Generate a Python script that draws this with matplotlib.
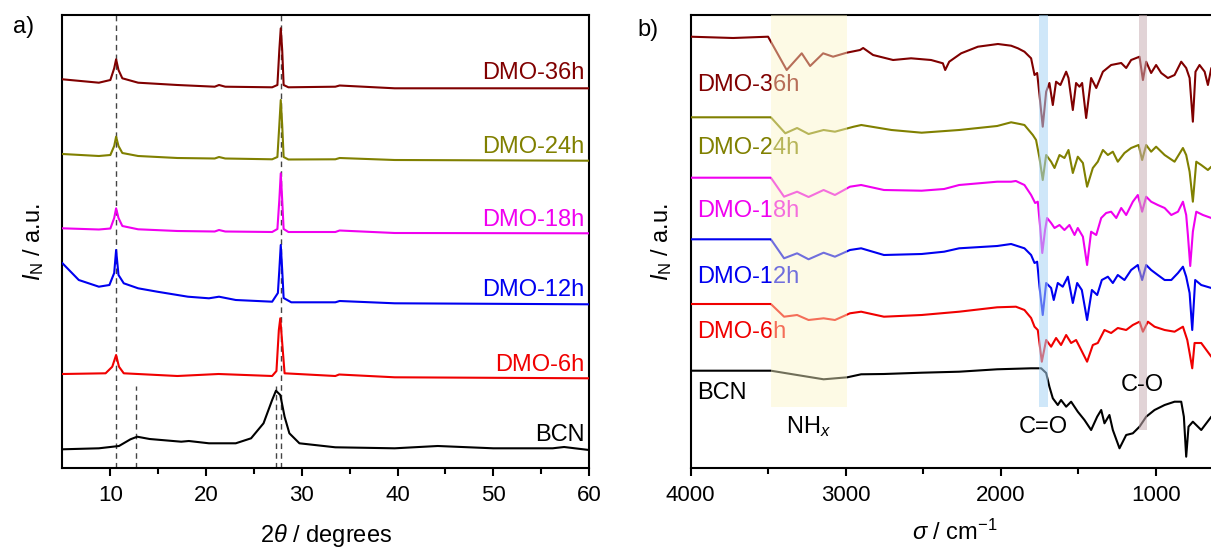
import numpy as np
import matplotlib
matplotlib.use("Agg")
import matplotlib.pyplot as plt

plt.rcParams['font.family'] = ['Liberation Sans', 'DejaVu Sans']
plt.rcParams['mathtext.fontset'] = 'custom'
plt.rcParams['mathtext.rm'] = 'Liberation Sans'
plt.rcParams['mathtext.it'] = 'Liberation Sans:italic'
plt.rcParams['mathtext.bf'] = 'Liberation Sans:bold'

# ------------------- data (stacked a.u.) -------------------
labels = ['BCN', 'DMO-6h', 'DMO-12h', 'DMO-18h', 'DMO-24h', 'DMO-36h']
colors = ['#000000', '#f00000', '#0000f0', '#f000f0', '#808000', '#800000']

# a) XRD, 2theta / degrees
xrd_x_dmo = [5.0, 8.8, 10.0, 10.4, 10.6, 10.85, 11.25, 12.9, 17.0, 20.9, 21.35, 22.0,
             26.9, 27.45, 27.65, 27.8, 27.95, 28.1, 28.6, 33.5, 33.95, 39.7, 60.0]
xrd_36h = [388.7, 385.3, 388, 399.7, 408.7, 398, 389.7, 385.3, 383, 381.3, 383, 381.3,
           380.7, 383, 418, 439.7, 418, 383, 380.7, 381.3, 382.5, 379.7, 379.7]
xrd_24h = [314, 312, 313, 322, 331.3, 322, 315, 312, 310, 309.5, 311, 309.5,
           308.7, 311, 343, 368, 343, 311, 308.5, 308.7, 310, 308, 307.3]
xrd_18h = [239.7, 238.5, 239.5, 250, 259.7, 250, 242, 238.7, 237, 236.5, 238, 236.5,
           236, 239, 268, 294.7, 268, 239, 236, 236, 237.5, 235, 234.7]
xrd_x_12h = [5.0, 6.7, 8.8, 9.9, 10.4, 10.6, 10.85, 11.4, 12.9, 14.9, 18.1, 20.3, 21.35,
             23.1, 26.9, 27.5, 27.65, 27.8, 27.95, 28.1, 28.9, 33.5, 33.95, 39.7, 60.0]
xrd_12h = [204.7, 188, 181.3, 183, 195, 218, 193, 184.7, 179.7, 176.3, 171.3, 169.7, 171.3,
           168, 166.3, 175, 198, 223, 198, 170, 165.7, 165.7, 167, 164.7, 163.7]
xrd_x_6h = [5.0, 9.5, 10.2, 10.6, 10.9, 11.4, 17.0, 21.3, 26.9, 27.35, 27.6, 27.75, 27.9,
            28.2, 33.5, 33.9, 39.7, 60.0]
xrd_6h = [94, 94.7, 101.3, 113, 101.3, 94.7, 92, 94, 92, 97, 138, 149.7, 131.3,
          94.7, 92, 93.5, 90.7, 89.7]
xrd_x_bcn = [5.0, 8.8, 10.9, 12.1, 12.8, 14.1, 17.4, 18.2, 20.3, 23.1, 24.7, 26.0, 26.9,
             27.3, 27.75, 28.2, 28.7, 29.75, 33.5, 39.7, 44.2, 50.0, 56.2, 57.4, 60.0]
xrd_bcn = [18.7, 19.7, 22, 28.7, 31.3, 29, 26.3, 27, 24.7, 24.7, 29.7, 44.7, 68,
           77.3, 73, 51.3, 34.7, 24.7, 20.7, 19.7, 22, 19.7, 19.7, 21, 18]
xrd_ref_full = [10.6, 27.8]      # dashed guides over the whole height
xrd_ref_bcn = [12.7, 27.35]      # short dashed guides for BCN
xrd_ref_bcn_top = 82

# b) FTIR, wavenumber / cm-1
ir_x_36h = [4000, 3727, 3501, 3381, 3284, 3230, 3146, 3082, 2994, 2908, 2888, 2824, 2695,
            2579, 2450, 2374, 2359, 2333, 2256, 2148, 2019, 1934, 1890, 1848, 1805, 1783,
            1766, 1751, 1730, 1708, 1687, 1665, 1644, 1616, 1579, 1564, 1536, 1515, 1493,
            1476, 1450, 1418, 1385, 1342, 1289, 1224, 1192, 1160, 1106, 1084, 1063, 1031,
            999, 966, 923, 880, 837, 805, 783, 762, 745, 719, 686, 665, 643, 600]
ir_36h = [431.3, 430, 431.3, 398, 414.7, 402, 414.7, 411.3, 415.3, 418, 420, 413, 408,
          409.7, 408, 404.7, 398, 406.3, 414.7, 421.3, 424, 422.3, 419.7, 416.3, 409.7, 393,
          395, 373, 341.3, 376.3, 385, 363, 386.3, 383, 396.3, 390, 358, 385, 381.3,
          385, 350, 390, 380, 396.3, 403, 405, 400, 408, 411.3, 388, 406.3, 395,
          403, 395, 390, 393, 406.3, 400, 390, 346.3, 396.3, 403, 396.3, 383, 400, 398]
ir_x_24h = [4000, 3483, 3390, 3314, 3240, 3143, 3070, 2949, 2900, 2705, 2511, 2269, 2024,
            1934, 1878, 1848, 1794, 1773, 1751, 1730, 1708, 1676, 1654, 1622, 1590, 1564,
            1536, 1504, 1471, 1444, 1407, 1375, 1342, 1310, 1278, 1246, 1203, 1160, 1112,
            1089, 1063, 1031, 999, 944, 880, 826, 805, 783, 762, 740, 708, 665, 643, 600]
ir_24h = [350.7, 350.7, 334.7, 340, 334, 338, 336.3, 341.3, 343, 338, 335.3, 338, 342,
          345.7, 344, 343, 333, 328, 310, 288, 313, 306.3, 300, 313, 310, 318,
          295, 311.3, 305, 281.3, 300, 306.3, 318, 313, 316.3, 306.3, 315, 320, 323,
          308, 323, 316.3, 321.3, 313, 306.3, 320, 313, 296.3, 266.3, 306.3, 303, 298, 301.3, 301]
ir_x_18h = [4000, 3483, 3398, 3314, 3240, 3143, 3070, 2973, 2901, 2754, 2511, 2366, 2269,
            2024, 1934, 1903, 1848, 1805, 1779, 1762, 1748, 1733, 1715, 1702, 1676, 1654,
            1622, 1590, 1558, 1525, 1504, 1471, 1444, 1418, 1385, 1353, 1321, 1289, 1256,
            1224, 1192, 1149, 1117, 1089, 1063, 1031, 988, 944, 901, 858, 826, 805, 794,
            779, 762, 740, 697, 643, 600]
ir_18h = [290.3, 290.3, 271.3, 276.3, 271, 278, 273, 281.3, 283, 278, 277.3, 279, 283,
          286.3, 286.3, 287, 283, 273, 265, 266.3, 243, 215, 238, 250, 245, 240,
          243, 238, 243, 233, 240, 231.3, 203, 236.3, 233, 250, 255, 256.3, 250,
          260, 253, 266.3, 273, 256.3, 271.3, 266.3, 263, 260, 253, 256.3, 266.3, 253, 233,
          202, 236.3, 256.3, 253, 250, 250]
ir_x_12h = [4000, 3483, 3398, 3314, 3240, 3143, 3070, 2973, 2901, 2754, 2511, 2366, 2269,
            2024, 1934, 1848, 1805, 1783, 1766, 1751, 1730, 1708, 1676, 1659, 1633, 1601,
            1568, 1536, 1508, 1478, 1444, 1413, 1379, 1349, 1310, 1278, 1246, 1203, 1160,
            1117, 1089, 1063, 1031, 988, 944, 901, 858, 826, 805, 783, 766, 747, 708, 643, 600]
ir_12h = [228.7, 228.7, 209.7, 214.7, 208.7, 215.3, 211.3, 218, 219.7, 213, 214, 216.3, 219.7,
          222, 224, 219.7, 213, 205, 206.3, 181.3, 153, 185, 180, 168, 185, 181.3,
          191.3, 165, 185, 178, 148, 178, 173, 188, 191.3, 185, 193, 188, 198,
          203, 188, 203, 198, 193, 188, 188, 195, 201.3, 191.3, 175, 138, 188, 183, 180, 180]
ir_x_6h = [4000, 3483, 3398, 3314, 3240, 3143, 3070, 2973, 2901, 2754, 2511, 2269, 2024,
           1903, 1848, 1805, 1783, 1762, 1736, 1708, 1676, 1644, 1612, 1579, 1547, 1515,
           1482, 1444, 1407, 1375, 1332, 1289, 1246, 1192, 1149, 1106, 1084, 1052, 1009,
           944, 880, 826, 798, 783, 766, 751, 708, 643, 600]
ir_6h = [164, 164, 151.3, 153, 148, 149.7, 148, 154.7, 156.3, 151.3, 153, 156.3, 160.7,
         161.3, 158, 150, 141.3, 138, 106.3, 128, 121.3, 130, 123, 133, 125, 128,
         118, 106.3, 123, 125, 138, 135, 140, 138, 143, 146.3, 136.3, 146.3, 141.3,
         138, 136.3, 141.3, 128, 115, 99.7, 125, 125, 111.3, 111.3]
ir_x_bcn = [4000, 3483, 3314, 3143, 2990, 2901, 2754, 2511, 2269, 2024, 1805, 1740, 1708,
            1687, 1665, 1633, 1612, 1579, 1547, 1504, 1461, 1418, 1379, 1353, 1332, 1300,
            1278, 1235, 1192, 1149, 1106, 1063, 1009, 944, 880, 837, 820, 805, 790, 762,
            708, 643, 600]
ir_bcn = [97.3, 97.3, 93, 88.7, 90.7, 93.7, 94, 95.3, 96.3, 98.7, 99.7, 99.7, 95,
          81.3, 69.7, 63, 68, 61.3, 66.3, 56.3, 48, 38, 51.3, 58, 44.7, 53,
          38, 19.7, 33, 34.7, 41.3, 51.3, 58, 63, 66.3, 66.3, 51.3, 11.3, 41.3, 46.3,
          38, 51.3, 53]

# shaded bands (cm-1 range, lower edge as axes fraction) and their labels
bands = [(3480, 2990, 0.135, '#fbf6c6', 0.45),
         (1755, 1697, 0.135, '#a9d4f5', 0.55),
         (1112, 1056, 0.084, '#c9b0b5', 0.55)]
band_text = [('NH$_{x}$', 3243, 41), ('C=O', 1727, 41), ('C-O', 1088, 83)]

xrd_label_y = [33, 103, 178, 248, 321, 395]
ir_label_y = [75, 136, 191, 257, 320, 383]

# ------------------- figure -------------------
W, H = 1211, 549
fig = plt.figure(figsize=(W / 100, H / 100), dpi=100)
axa = fig.add_axes([62.5 / W, 81 / H, 526.5 / W, 453 / H])
axb = fig.add_axes([690.7 / W, 81 / H, 558.3 / W, 453 / H])

fs_tick = 16
fs_lab = 17

# a) XRD
xrd_sets = [(xrd_x_bcn, xrd_bcn), (xrd_x_6h, xrd_6h), (xrd_x_12h, xrd_12h),
            (xrd_x_dmo, xrd_18h), (xrd_x_dmo, xrd_24h), (xrd_x_dmo, xrd_36h)]
for (x, y), c, lab, ly in zip(xrd_sets, colors, labels, xrd_label_y):
    axa.plot(x, y, color=c, lw=1.5, zorder=3)
    axa.text(59.5, ly, lab, color=c, fontsize=fs_lab, ha='right', va='center')
for xv in xrd_ref_full:
    axa.axvline(xv, color='#444444', lw=1, ls=(0, (4, 3)), zorder=2)
for xv in xrd_ref_bcn:
    axa.plot([xv, xv], [0, xrd_ref_bcn_top], color='#444444', lw=1, ls=(0, (4, 3)), zorder=2)

axa.set_xlim(5, 60)
axa.set_ylim(0, 453)
axa.set_xticks([10, 20, 30, 40, 50, 60])
axa.set_xticks([15, 25, 35, 45, 55], minor=True)
axa.set_xlabel(r'2$\theta$ / degrees', fontsize=fs_lab, labelpad=12)
axa.set_ylabel(r'$I_\mathrm{N}$ / a.u.', fontsize=fs_lab, labelpad=12)

# b) FTIR
ir_sets = [(ir_x_bcn, ir_bcn), (ir_x_6h, ir_6h), (ir_x_12h, ir_12h),
           (ir_x_18h, ir_18h), (ir_x_24h, ir_24h), (ir_x_36h, ir_36h)]
for (x, y), c, lab, ly in zip(ir_sets, colors, labels, ir_label_y):
    axb.plot(x, y, color=c, lw=1.5, zorder=3)
    axb.text(3960, ly, lab, color=c, fontsize=fs_lab, ha='left', va='center', zorder=4)
for x0, x1, y0, c, a in bands:
    axb.axvspan(x1, x0, ymin=y0, ymax=1, color=c, alpha=a, lw=0, zorder=5)
for t, xv, yv in band_text:
    axb.text(xv, yv, t, fontsize=fs_lab, ha='center', va='center', zorder=6)

axb.set_xlim(4000, 400)
axb.set_ylim(0, 453)
axb.set_xticks([4000, 3000, 2000, 1000])
axb.set_xticks([3500, 2500, 1500, 500], minor=True)
axb.set_xlabel(r'$\sigma$ / cm$^{-1}$', fontsize=fs_lab)
axb.xaxis.set_label_coords(0.473, -0.115)
axb.set_ylabel(r'$I_\mathrm{N}$ / a.u.', fontsize=fs_lab, labelpad=12)

for ax in (axa, axb):
    ax.set_yticks([])
    for s in ax.spines.values():
        s.set_linewidth(1.5)
    ax.tick_params(axis='x', which='major', direction='out', length=6, width=1.5,
                   labelsize=fs_tick, pad=6)
    ax.tick_params(axis='x', which='minor', direction='out', length=4, width=1.5)

fig.text(24 / W, 1 - 27 / H, 'a)', fontsize=fs_lab, ha='center', va='center')
fig.text(648 / W, 1 - 30 / H, 'b)', fontsize=fs_lab, ha='center', va='center')

fig.savefig('out.png', dpi=100)
